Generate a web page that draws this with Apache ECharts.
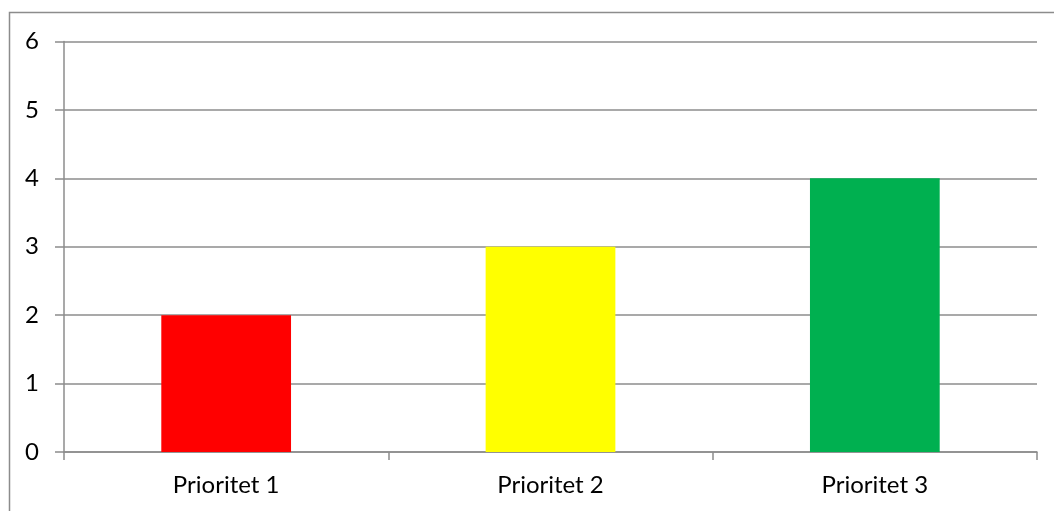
<!DOCTYPE html>
<html>
<head>
<meta charset="utf-8">
<script src="https://cdn.jsdelivr.net/npm/echarts@6/dist/echarts.min.js"></script>
<style>
html,body{margin:0;padding:0;background:#fff;}
#chart{width:1054px;height:511px;}
</style>
</head>
<body>
<div id="chart"></div>
<script>
const categories = ['Prioritet 1', 'Prioritet 2', 'Prioritet 3'];
const values = [2, 3, 4];
const barColors = ['#FF0000', '#FFFF00', '#00B050'];
const yTicks = [0, 1, 2, 3, 4, 5, 6];

const chart = echarts.init(document.getElementById('chart'));
const font = 'Lato, "Open Sans", sans-serif';
chart.setOption({
  animation: false,
  backgroundColor: '#fff',
  graphic: [{
    type: 'rect',
    shape: { x: 9.5, y: 12.5, width: 1100, height: 600 },
    style: { fill: 'none', stroke: '#8c8c8c', lineWidth: 1.5 },
    silent: true
  }],
  grid: { left: 64, right: 17, top: 41.5, bottom: 59, containLabel: false },
  xAxis: {
    type: 'category',
    data: categories,
    axisLine: { show: true, lineStyle: { color: '#8c8c8c', width: 1.5 } },
    axisTick: { show: true, length: 8, lineStyle: { color: '#8c8c8c', width: 1.5 } },
    axisLabel: { color: '#000', fontSize: 24, fontFamily: font, margin: 21 },
    splitLine: { show: false }
  },
  yAxis: {
    type: 'value',
    min: yTicks[0],
    max: yTicks[yTicks.length - 1],
    interval: 1,
    axisLine: { show: true, lineStyle: { color: '#8c8c8c', width: 1.5 } },
    axisTick: { show: true, length: 9, lineStyle: { color: '#8c8c8c', width: 1.5 } },
    axisLabel: { color: '#000', fontSize: 24, fontFamily: font, margin: 25 },
    splitLine: { show: true, lineStyle: { color: '#8c8c8c', width: 1.5 } }
  },
  series: [{
    type: 'bar',
    barWidth: '40%',
    data: values.map((v, i) => ({ value: v, itemStyle: { color: barColors[i] } }))
  }]
});
</script>
</body>
</html>
